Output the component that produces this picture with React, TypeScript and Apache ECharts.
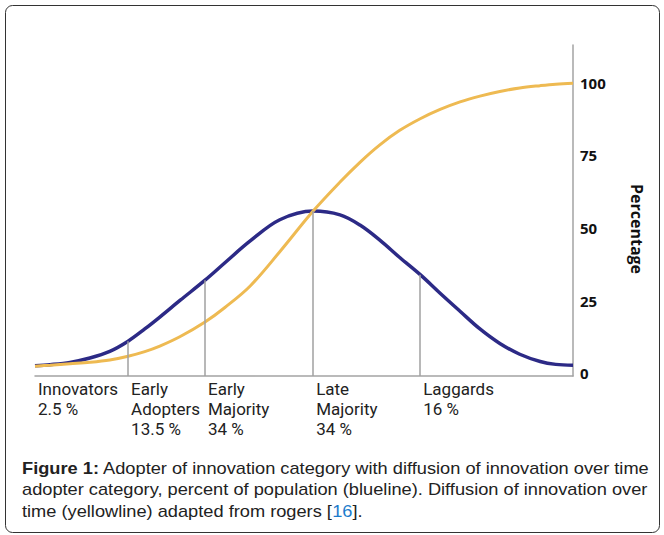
import React, { useEffect, useRef } from "react";
import * as echarts from "echarts";

// Time axis (0 = start, 100 = end)
const timeX = [0, 2.8, 6.5, 10.2, 13.9, 17.3, 20.4, 23.2, 27.0, 31.6, 35.3, 40.0, 45.5, 51.7, 56.7, 60.4, 64.1, 67.8, 71.6, 75.3, 79.0, 82.7, 86.4, 90.1, 93.9, 96.8, 100];
// Blue line: adopter category, percent of population
const adopterShare = [2.5, 2.9, 3.7, 5.2, 7.5, 11.0, 15.2, 19.3, 25.1, 32.0, 38.0, 45.5, 52.8, 55.8, 54.5, 51.0, 45.8, 39.8, 33.9, 27.5, 21.3, 15.2, 10.2, 6.5, 4.0, 3.0, 2.7];
// Yellow line: diffusion of innovation over time (cumulative)
const cumulativeAdoption = [2.4, 2.7, 3.2, 3.7, 4.5, 5.8, 7.4, 9.3, 12.6, 17.6, 22.6, 30.0, 41.8, 55.8, 65.8, 72.6, 78.6, 83.6, 87.6, 90.8, 93.4, 95.4, 97.0, 98.2, 99.0, 99.5, 99.8];

// Adopter categories
const categoryNames = ["Innovators", "Early\nAdopters", "Early\nMajority", "Late\nMajority", "Laggards"];
const categoryShares = ["2.5 %", "13.5 %", "34 %", "34 %", "16 %"];
const categoryStartX = [0, 17.3, 31.6, 51.7, 71.6];

const yTicks = [0, 25, 50, 75, 100];

const captionLines = [
  "{b|Figure 1:} Adopter of innovation category with diffusion of innovation over time",
  "adopter category, percent of population (blueline). Diffusion of innovation over",
  "time (yellowline) adapted from rogers [{l|16}].",
];

export default function App() {
  const ref = useRef<HTMLDivElement>(null);
  useEffect(() => {
    if (!ref.current) return;
    const chart = echarts.init(ref.current, undefined, { renderer: "svg" });
    const capFont = "Liberation Sans";
    const capSize = 16;
    const option: any = {
      animation: false,
      backgroundColor: "#ffffff",
      grid: { left: 35, right: 91, top: 45, bottom: 159 },
      xAxis: {
        type: "value",
        min: 0,
        max: 100,
        axisLine: { show: true, onZero: false, lineStyle: { color: "#a3a3a3", width: 1.5 } },
        axisTick: { show: false },
        splitLine: { show: false },
        axisLabel: {
          customValues: categoryStartX,
          formatter: (v: number) => {
            const i = categoryStartX.indexOf(v);
            return i >= 0 ? categoryNames[i] + "\n" + categoryShares[i] : "";
          },
          align: "left",
          verticalAlign: "top",
          margin: 3,
          padding: [0, 0, 0, 3],
          fontFamily: "Roboto",
          fontSize: 17,
          lineHeight: 20,
          color: "#222",
        },
      },
      yAxis: {
        type: "value",
        position: "right",
        min: -1,
        max: 113,
        axisLine: { show: true, onZero: false, lineStyle: { color: "#a3a3a3", width: 1.5 } },
        axisTick: { show: false },
        splitLine: { show: false },
        axisLabel: {
          customValues: yTicks,
          fontWeight: "bold",
          fontFamily: "Open Sans",
          fontSize: 15,
          color: "#111",
          margin: 7,
        },
      },
      series: [
        {
          type: "line",
          data: [],
          z: 1,
          markLine: {
            silent: true,
            symbol: "none",
            label: { show: false },
            lineStyle: { color: "#a0a0a0", width: 1.5, type: "solid" },
            data: categoryStartX.slice(1).map((x) => [
              { coord: [x, -1] },
              { coord: [x, adopterShare[timeX.indexOf(x)]] },
            ]),
          },
        },
        {
          type: "line",
          name: "Adopters",
          data: timeX.map((x, i) => [x, adopterShare[i]]),
          smooth: 0.35,
          showSymbol: false,
          z: 3,
          lineStyle: { color: "#2c2a86", width: 3.5 },
        },
        {
          type: "line",
          name: "Diffusion",
          data: timeX.map((x, i) => [x, cumulativeAdoption[i]]),
          smooth: 0.35,
          showSymbol: false,
          z: 4,
          lineStyle: { color: "#eeba52", width: 3 },
        },
      ],
      graphic: [
        {
          type: "rect",
          shape: { x: 5.5, y: 5.5, width: 654, height: 527, r: 7 },
          style: { fill: "none", stroke: "#333", lineWidth: 1 },
          silent: true,
        },
        {
          type: "text",
          x: 637,
          y: 229,
          rotation: -Math.PI / 2,
          style: {
            text: "Percentage",
            fontFamily: "Open Sans",
            fontWeight: "bold",
            fontSize: 16,
            fill: "#111",
            align: "center",
            verticalAlign: "middle",
          },
        },
        ...captionLines.map((t, i) => ({
          type: "text",
          x: 22,
          y: [468, 489.5, 511][i],
          scaleX: 1.14,
          style: {
            text: t,
            fontFamily: capFont,
            fontSize: capSize,
            fill: "#222",
            verticalAlign: "middle",
            rich: {
              b: { fontFamily: capFont, fontSize: capSize, fontWeight: "bold", fill: "#222" },
              l: { fontFamily: capFont, fontSize: capSize, fill: "#1b7ccc" },
            },
          },
        })),
      ],
    };
    chart.setOption(option);
    return () => chart.dispose();
  }, []);
  return (
    <div
      ref={ref}
      style={{ position: "absolute", left: 0, top: 0, width: 664, height: 535, background: "#fff" }}
    />
  );
}
